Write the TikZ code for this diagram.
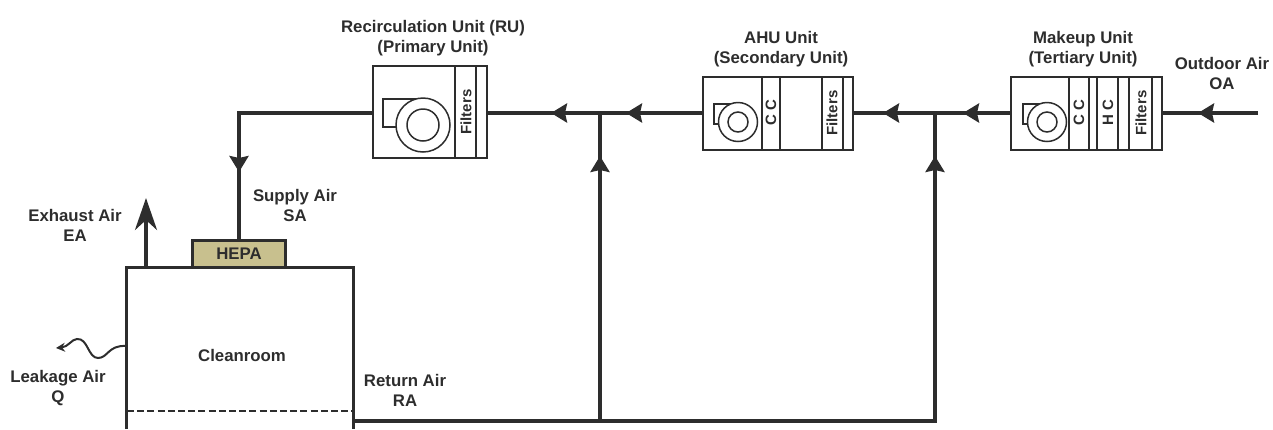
\documentclass[tikz,border=0pt]{standalone}
\usepackage{fontspec}
\setmainfont{Liberation Sans}
\usetikzlibrary{arrows.meta,positioning,calc}
\definecolor{inkgray}{RGB}{45,45,45}
\definecolor{hepatan}{RGB}{200,192,142}

\begin{document}
\begin{tikzpicture}[
  x=1pt, y=-1pt,
  every node/.style={font=\fontsize{16.8}{20}\selectfont\bfseries, text=inkgray, align=center, inner sep=0pt},
  unitbox/.style={draw=inkgray, line width=2.8pt, fill=white},
  part/.style={draw=inkgray, line width=2.2pt},
  fanline/.style={draw=inkgray, line width=1.5pt},
  vert/.style={font=\fontsize{15}{16}\selectfont\bfseries, rotate=90},
  duct/.style={draw=inkgray, line width=3.6pt},
  arr/.style={duct, -{Stealth[length=16pt, width=19pt, inset=2pt]}},
  wall/.style={draw=inkgray, line width=3pt}
]
  \useasboundingbox (0,0) rectangle (1273,429);

  % units
  \node[unitbox, minimum width=114pt, minimum height=92pt] (ru) at (430,112) {};
  \node[unitbox, minimum width=150pt, minimum height=73pt] (ahu) at (778,113.5) {};
  \node[unitbox, minimum width=151pt, minimum height=73pt] (mu) at (1086.5,113.5) {};
  \node (rulbl)  at (433,38) {Recirculation Unit (RU)\\(Primary Unit)};
  \node (ahulbl) at (781,49) {AHU Unit\\(Secondary Unit)};
  \node (mulbl)  at (1083,49.5) {Makeup Unit\\(Tertiary Unit)};

  \foreach \x in {455,476} \draw[part] (\x,67) -- (\x,157);
  \foreach \x in {762,780,822,843} \draw[part] (\x,78) -- (\x,149);
  \foreach \x in {1069,1089,1097,1118,1129,1152} \draw[part] (\x,78) -- (\x,149);

  \node[vert] (rufilt)  at (466,112)  {Filters};
  \node[vert] (ahucc)   at (771,113)  {C C};
  \node[vert] (ahufilt) at (832,113)  {Filters};
  \node[vert] (mucc)    at (1079,113) {C C};
  \node[vert] (muhc)    at (1108,113) {H C};
  \node[vert] (mufilt)  at (1141,113) {Filters};

  % fans
  \draw[fanline] (423,99) -- (383,99) -- (383,127) -- (398,127);
  \draw[fanline, fill=white] (423,125) circle (27);
  \draw[fanline] (423,125) circle (16);
  \draw[fanline] (737,104) -- (714,104) -- (714,124) -- (720,124);
  \draw[fanline, fill=white] (738,122) circle (19.5);
  \draw[fanline] (738,122) circle (10);
  \draw[fanline] (1047,104) -- (1023,104) -- (1023,124) -- (1029,124);
  \draw[fanline, fill=white] (1047,122) circle (19.5);
  \draw[fanline] (1047,122) circle (10);

  % cleanroom
  \node (room) at (242,355) {Cleanroom};
  \coordinate (roomsw) at (126,429);
  \coordinate (roomnw) at (126,267);
  \coordinate (roomne) at (353,267);
  \coordinate (roomse) at (353,429);
  \draw[wall] (roomsw) -- (roomnw) -- (roomne) -- (roomse);
  \coordinate (floorw) at (127,411);
  \coordinate (floore) at (352,411);
  \draw[wall, line width=2.2pt, dash pattern=on 7pt off 3.2pt] (floorw) -- (floore);
  \node[draw=inkgray, line width=2.4pt, fill=hepatan, minimum width=93pt, minimum height=27pt] (hepa) at (239,254) {HEPA};

  % air labels
  \node (oalbl)  at (1222,73)  {Outdoor Air\\OA};
  \node (salbl)  at (295,205)  {Supply Air\\SA};
  \node (ealbl)  at (75,225)   {Exhaust Air\\EA};
  \node (qlbl)   at (58,388)   {Leakage Air\\Q};
  \node (ralbl)  at (405,390)  {Return Air\\RA};

  % ducts
  \coordinate (oain) at (1258,113);
  \coordinate (jb) at (935,113);
  \coordinate (ja) at (600,113);
  \coordinate (bend) at (239,113);
  \coordinate (rastart) at (354,421);
  \coordinate (ra1) at (600,421);
  \coordinate (ra2) at (935,421);

  \draw[duct] (oain) -- (mu.east |- oain);
  \draw[duct] (mu.west |- oain) -- (ahu.east |- oain);
  \draw[duct] (ahu.west |- oain) -- (ru.east |- oain);
  \draw[duct] (ru.west |- oain) -- (bend) -- (hepa.north);
  \draw[duct] (rastart) -- (ra2) -- (jb);
  \draw[duct] (ra1) -- (ja);

  % arrowheads on the ducts
  \foreach \tipx in {1198,963,883,626,551}
    \draw[arr] (\tipx+20,113) -- (\tipx,113);
  \draw[arr] (239,150) -- (239,172);
  \foreach \tipx in {600,935}
    \draw[arr] (\tipx,180) -- (\tipx,156);

  % exhaust and leakage
  \coordinate (eastart) at (146,267);
  \coordinate (eatip) at (146,198);
  \draw[duct, -{Stealth[length=32pt, width=22pt, inset=10pt]}] (eastart) -- (eatip);
  \coordinate (leakstart) at (126,346);
  \coordinate (leaktip) at (56,348);
  \draw[draw=inkgray, line width=2pt, -{Stealth[length=9pt, width=9pt]}] (leakstart) .. controls (108,345) and (108,358) .. (98,358) .. controls (88,358) and (88,338) .. (77,339) .. controls (72,339) and (68,347) .. (leaktip);
\end{tikzpicture}
\end{document}
